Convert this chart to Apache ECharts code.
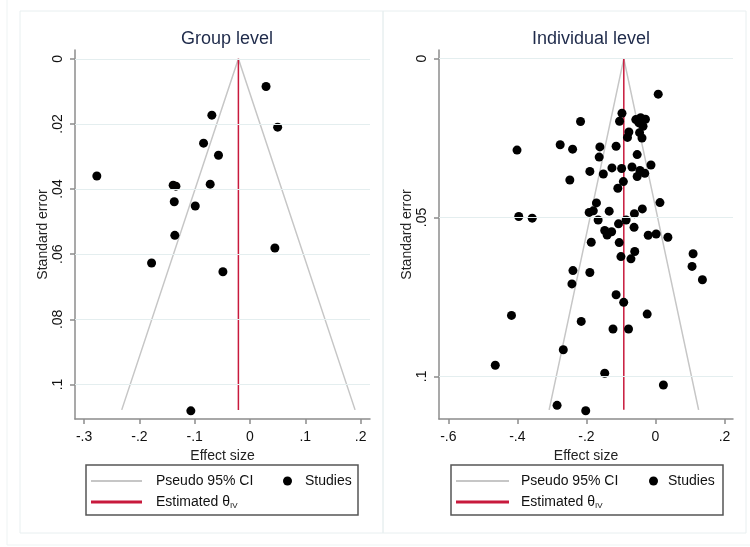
<!DOCTYPE html>
<html>
<head>
<meta charset="utf-8">
<script src="https://cdn.jsdelivr.net/npm/echarts@6/dist/echarts.min.js"></script>
<style>
  html, body { margin: 0; background: #fff; }
  #chart { width: 750px; height: 547px; }
</style>
</head>
<body>
<div id="chart"></div>
<script>
// group level studies
var groupES = [0.029, -0.069, 0.050, -0.084, -0.057, -0.277, -0.139, -0.134, -0.072, -0.137, -0.099, -0.136, 0.045, -0.178, -0.049, -0.107]
var groupSE = [0.0085, 0.0173, 0.0210, 0.0259, 0.0296, 0.0360, 0.0388, 0.0391, 0.0385, 0.0439, 0.0452, 0.0542, 0.0581, 0.0627, 0.0654, 0.1081]
var groupFunnelX = [-0.232, -0.021, 0.190]
var groupFunnelSE = [0.1078, 0, 0.1078]
var groupEstX = [-0.021, -0.021]
var groupEstSE = [0, 0.1078]

// individual level studies
var indivES = [0.008, -0.097, -0.104, -0.217, -0.057, -0.043, -0.029, -0.036, -0.048, -0.077,
  -0.081, -0.046, -0.039, -0.276, -0.240, -0.161, -0.114, -0.401, -0.053, -0.163,
  -0.013, -0.126, -0.098, -0.068, -0.045, -0.031, -0.053, -0.190, -0.151, -0.248,
  -0.093, -0.109, -0.171, 0.013, -0.180, -0.192, -0.134, -0.038, -0.061, -0.396,
  -0.357, -0.166, -0.085, -0.107, -0.062, -0.147, -0.127, -0.140, -0.021, 0.002,
  0.036, -0.186, -0.105, -0.060, -0.100, -0.071, 0.109, 0.106, 0.136, -0.239,
  -0.190, -0.242, -0.114, -0.092, -0.417, -0.024, -0.215, -0.123, -0.078, -0.267,
  -0.464, -0.147, 0.023, -0.285, -0.202]
var indivSE = [0.0112, 0.0172, 0.0197, 0.0198, 0.0192, 0.0186, 0.0191, 0.0213, 0.0202, 0.0231,
  0.0248, 0.0233, 0.0250, 0.0271, 0.0285, 0.0278, 0.0276, 0.0288, 0.0302, 0.0310,
  0.0335, 0.0344, 0.0346, 0.0341, 0.0352, 0.0361, 0.0371, 0.0355, 0.0363, 0.0382,
  0.0387, 0.0408, 0.0454, 0.0453, 0.0479, 0.0484, 0.0480, 0.0473, 0.0488, 0.0497,
  0.0502, 0.0508, 0.0508, 0.0520, 0.0531, 0.0541, 0.0545, 0.0555, 0.0556, 0.0552,
  0.0562, 0.0578, 0.0579, 0.0607, 0.0623, 0.0630, 0.0614, 0.0654, 0.0696, 0.0667,
  0.0673, 0.0709, 0.0743, 0.0767, 0.0808, 0.0804, 0.0827, 0.0851, 0.0851, 0.0916,
  0.0965, 0.0990, 0.1027, 0.1091, 0.1108]
var indivFunnelX = [-0.308, -0.0917, 0.125]
var indivFunnelSE = [0.1105, 0, 0.1105]
var indivEstX = [-0.0917, -0.0917]
var indivEstSE = [0, 0.1105]

var groupXTicks = [-0.3, -0.2, -0.1, 0, 0.1, 0.2]
var groupYTicks = [0, 0.02, 0.04, 0.06, 0.08, 0.1]
var indivXTicks = [-0.6, -0.4, -0.2, 0, 0.2]
var indivYTicks = [0, 0.05, 0.1]

var titles = ['Group level', 'Individual level']

function zip(a, b) {
  return a.map(function (v, i) { return [v, b[i]] })
}
// stata style: .1 instead of 0.1
function stataNum(v) {
  if (v === 0) return '0'
  return String(v).replace('0.', '.')
}

var fontFam = '"Liberation Sans", Arial, sans-serif'
var axisGray = '#8c8c8c'
var ciColor = '#c6c6c6'
var estColor = '#c8193c'
var gridColor = '#e4eeef'

function xAxisOf(idx, min, max, ticks) {
  return {
    type: 'value', gridIndex: idx, min: min, max: max,
    name: 'Effect size', nameLocation: 'middle', nameGap: 22,
    nameTextStyle: { fontFamily: fontFam, fontSize: 14, color: '#222' },
    axisLine: { show: true, onZero: false, lineStyle: { color: axisGray, width: 1.5 } },
    axisTick: { show: true, length: 5, customValues: ticks, lineStyle: { color: axisGray, width: 1.5 } },
    axisLabel: { customValues: ticks, formatter: stataNum, margin: 11, fontFamily: fontFam, fontSize: 14, color: '#111' },
    splitLine: { show: false }
  }
}
function yAxisOf(idx, min, max, ticks, gap) {
  return {
    type: 'value', gridIndex: idx, min: min, max: max, inverse: true,
    name: 'Standard error', nameLocation: 'middle', nameGap: gap,
    nameTextStyle: { fontFamily: fontFam, fontSize: 14, color: '#222' },
    axisLine: { show: true, onZero: false, lineStyle: { color: axisGray, width: 1.5 } },
    axisTick: { show: true, length: 5, customValues: ticks, lineStyle: { color: axisGray, width: 1.5 } },
    axisLabel: { customValues: ticks, formatter: stataNum, rotate: 90, margin: 10, fontFamily: fontFam, fontSize: 14, color: '#111' },
    splitLine: { show: false }
  }
}

function panelSeries(idx, es, se, fx, fse, ex, ese, yTicks) {
  return [{
    name: 'Pseudo 95% CI', type: 'line', xAxisIndex: idx, yAxisIndex: idx,
    data: zip(fx, fse), symbol: 'none', silent: true, z: 2,
    lineStyle: { color: ciColor, width: 1.5 },
    itemStyle: { color: ciColor },
    markLine: {
      silent: true, symbol: ['none', 'none'], label: { show: false },
      lineStyle: { color: gridColor, type: 'solid', width: 1 },
      data: yTicks.map(function (v) { return { yAxis: v } })
    }
  }, {
    name: 'Estimated θIV', type: 'line', xAxisIndex: idx, yAxisIndex: idx,
    data: zip(ex, ese), symbol: 'none', silent: true, z: 3,
    lineStyle: { color: estColor, width: 1.5 },
    itemStyle: { color: estColor }
  }, {
    name: 'Studies', type: 'scatter', xAxisIndex: idx, yAxisIndex: idx,
    data: zip(es, se), symbolSize: 9, z: 4,
    itemStyle: { color: '#000', opacity: 1 }
  }]
}

function legendItem(name, left, top, opts) {
  var l = {
    data: [name], left: left, top: top, padding: 0, selectedMode: false,
    orient: 'horizontal', itemWidth: opts.w, itemHeight: opts.h, icon: opts.icon,
    itemStyle: { opacity: 1 },
    formatter: function (n) {
      if (n === 'Estimated θIV') return '{a|Estimated θ}{s|IV}'
      return '{a|' + n + '}'
    },
    textStyle: {
      fontFamily: fontFam, fontSize: 14, color: '#111',
      rich: {
        a: { fontFamily: fontFam, fontSize: 14, color: '#111', lineHeight: 16, padding: [0, 0, 0, opts.pad] },
        s: { fontFamily: fontFam, fontSize: 8, color: '#111', lineHeight: 10, verticalAlign: 'bottom' }
      }
    }
  }
  return l
}

var myChart = echarts.init(document.getElementById('chart'), null, { renderer: 'canvas' })

var option = {
  backgroundColor: '#fff',
  animation: false,
  textStyle: { fontFamily: fontFam },
  title: [
    { text: titles[0], left: 222, top: 25, textAlign: 'center', textStyle: { fontFamily: fontFam, fontSize: 18, fontWeight: 'normal', color: '#1e2a4a' } },
    { text: titles[1], left: 586, top: 25, textAlign: 'center', textStyle: { fontFamily: fontFam, fontSize: 18, fontWeight: 'normal', color: '#1e2a4a' } }
  ],
  grid: [
    { left: 75, top: 50, width: 295, height: 369 },
    { left: 439, top: 50, width: 294, height: 369 }
  ],
  xAxis: [
    xAxisOf(0, -0.3165, 0.217, groupXTicks),
    xAxisOf(1, -0.627, 0.2246, indivXTicks)
  ],
  yAxis: [
    yAxisOf(0, -0.0027, 0.1106, groupYTicks, 25),
    yAxisOf(1, -0.0027, 0.1134, indivYTicks, 24)
  ],
  legend: [
    legendItem('Pseudo 95% CI', 91, 474, { w: 51, h: 2, pad: 9, icon: 'rect' }),
    legendItem('Studies', 283, 474, { w: 9, h: 9, pad: 8, icon: 'circle' }),
    legendItem('Estimated θIV', 91, 495, { w: 51, h: 3, pad: 9, icon: 'rect' }),
    legendItem('Pseudo 95% CI', 456, 474, { w: 53, h: 2, pad: 7, icon: 'rect' }),
    legendItem('Studies', 649, 474, { w: 9, h: 9, pad: 5, icon: 'circle' }),
    legendItem('Estimated θIV', 456, 495, { w: 53, h: 3, pad: 7, icon: 'rect' })
  ],
  graphic: [
    { type: 'rect', silent: true, z: -10, shape: { x: 7, y: -2, width: 760, height: 547 }, style: { fill: 'none', stroke: '#eef3f3', lineWidth: 1 } },
    { type: 'rect', silent: true, z: -9, shape: { x: 20, y: 11, width: 363, height: 522 }, style: { fill: 'none', stroke: '#e8eff0', lineWidth: 1 } },
    { type: 'rect', silent: true, z: -9, shape: { x: 383, y: 11, width: 363, height: 522 }, style: { fill: 'none', stroke: '#e8eff0', lineWidth: 1 } },
    { type: 'rect', silent: true, z: 0, shape: { x: 86, y: 465, width: 272, height: 50 }, style: { fill: 'none', stroke: '#555', lineWidth: 1.5 } },
    { type: 'rect', silent: true, z: 0, shape: { x: 451, y: 465, width: 272, height: 50 }, style: { fill: 'none', stroke: '#555', lineWidth: 1.5 } }
  ],
  series: [].concat(
    panelSeries(0, groupES, groupSE, groupFunnelX, groupFunnelSE, groupEstX, groupEstSE, groupYTicks),
    panelSeries(1, indivES, indivSE, indivFunnelX, indivFunnelSE, indivEstX, indivEstSE, indivYTicks)
  )
}

myChart.setOption(option)
</script>
</body>
</html>
